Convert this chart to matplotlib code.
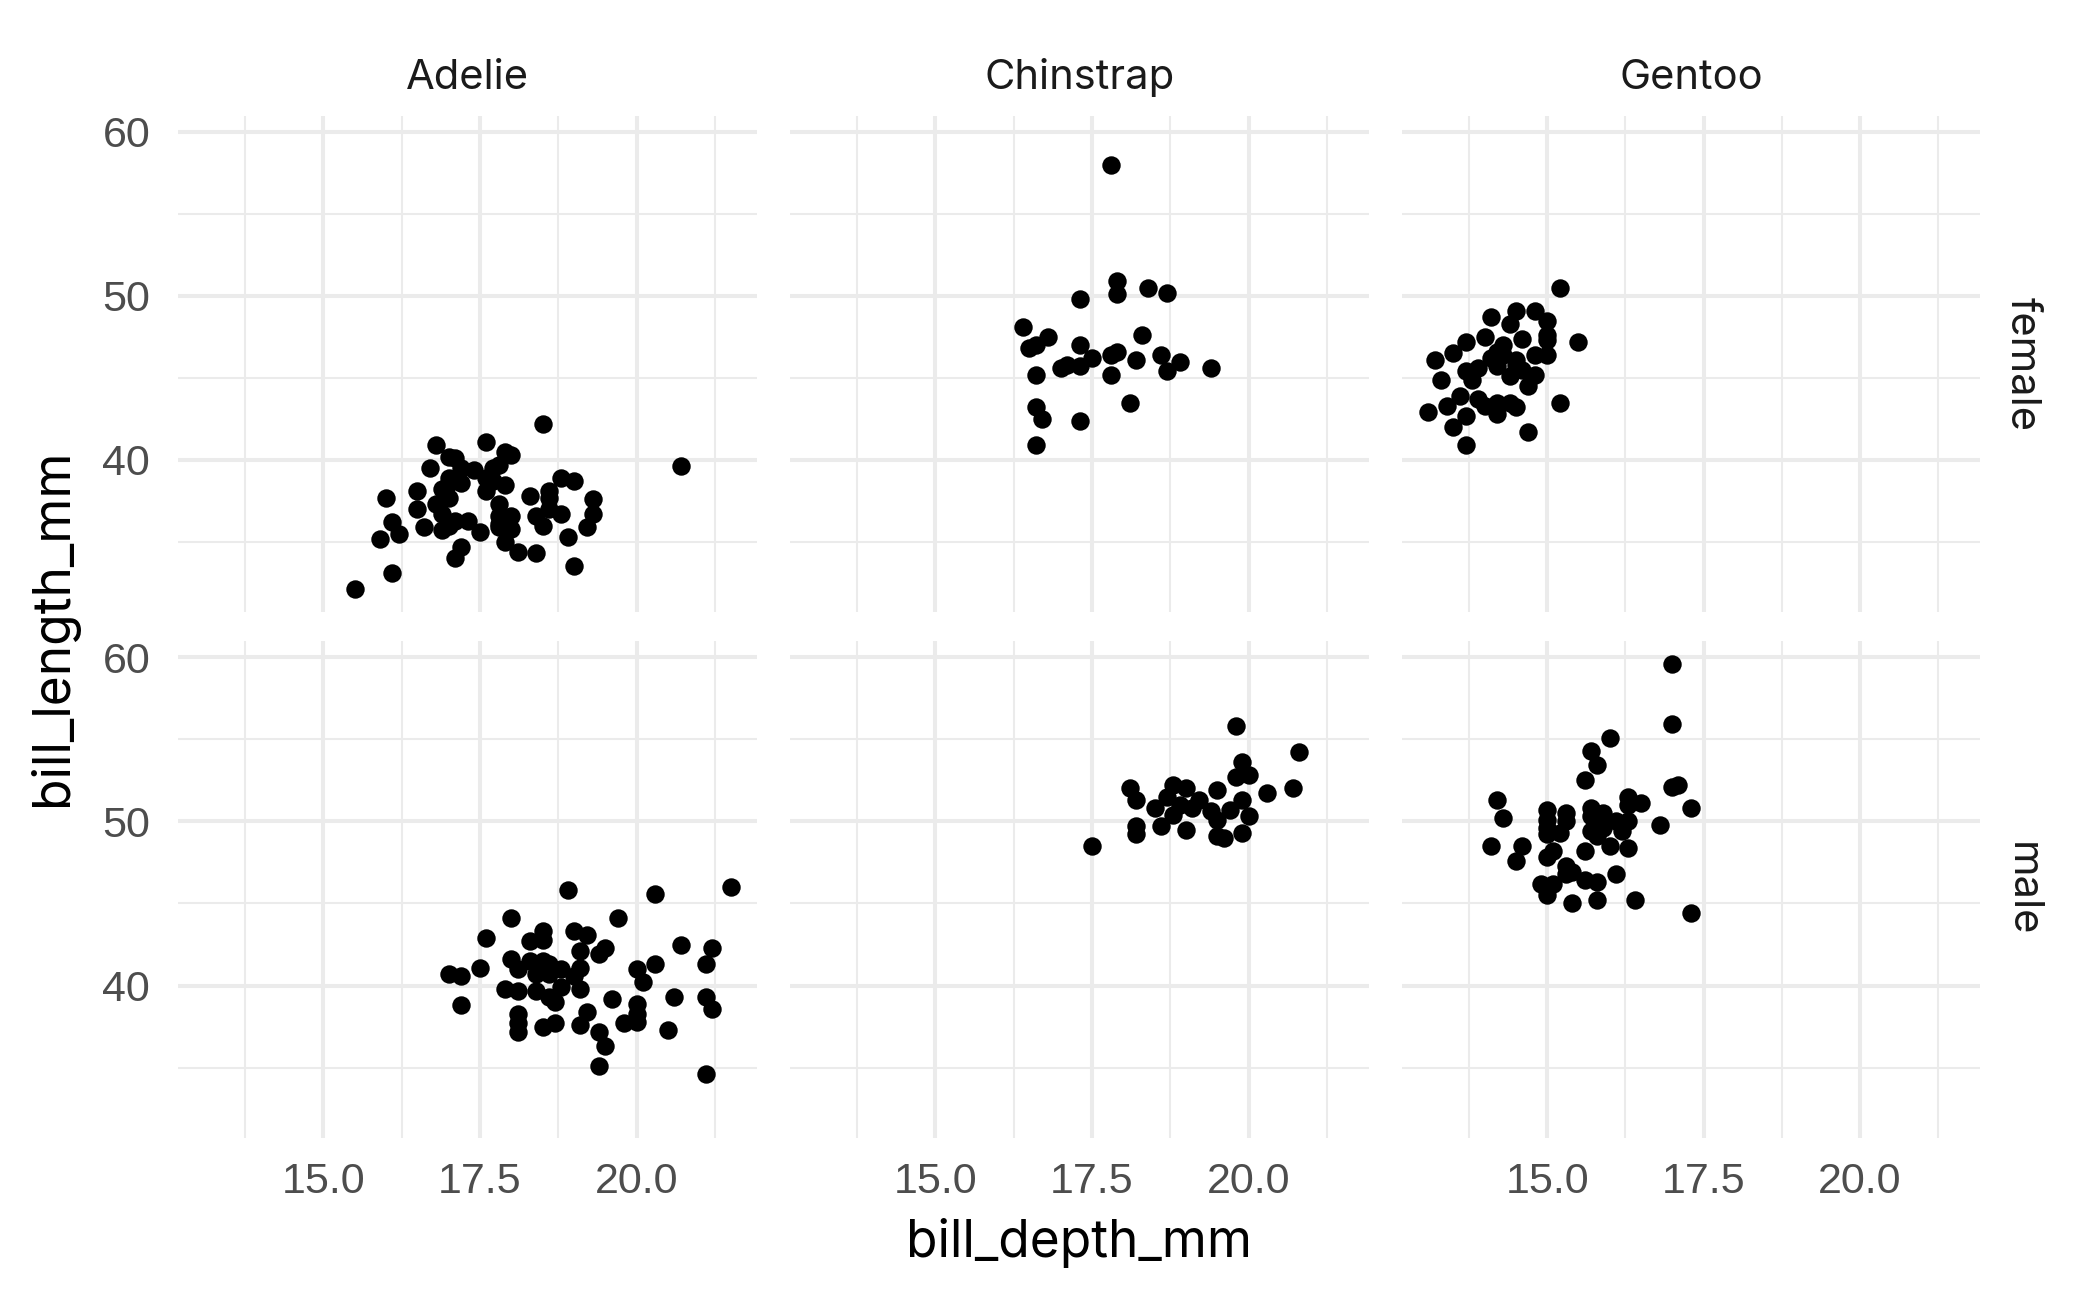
import matplotlib
matplotlib.use("Agg")
import matplotlib.pyplot as plt
from matplotlib.ticker import FixedLocator

# values, per species and sex: (bill_depth_mm, bill_length_mm)
species = ["Adelie", "Chinstrap", "Gentoo"]
sexes = ["female", "male"]

adelie_female_depth = [15.5, 16.1, 15.9, 16.2, 16.1, 16.0, 16.5, 16.5, 16.6, 16.7, 16.8, 17.0, 17.1, 17.0,
                       17.0, 16.8, 16.9, 16.9, 17.1, 17.2, 17.1, 17.2, 17.4, 17.3, 17.5, 17.6, 17.6, 17.7,
                       17.8, 17.9, 18.0, 17.9, 17.8, 17.8, 18.0, 17.8, 18.0, 17.9, 18.1, 18.4, 18.3, 18.5,
                       18.6, 18.6, 18.4, 18.5, 18.8, 18.6, 18.8, 19.0, 18.9, 19.0, 19.3, 19.3, 19.2, 20.7,
                       16.9, 17.0, 17.2, 17.6, 17.7, 17.8, 17.0]
adelie_female_length = [32.1, 33.1, 35.2, 35.5, 36.2, 37.7, 38.1, 37.0, 35.9, 39.5, 40.9, 40.2, 40.1, 38.9,
                        37.7, 37.3, 36.7, 35.7, 36.3, 34.7, 34.0, 38.6, 39.4, 36.3, 35.6, 41.1, 38.1, 39.5,
                        39.7, 40.5, 40.3, 38.5, 37.3, 36.6, 36.6, 36.1, 35.8, 35.0, 34.4, 34.3, 37.8, 42.2,
                        38.1, 37.7, 36.6, 36.0, 36.7, 37.0, 38.9, 38.7, 35.3, 33.5, 37.6, 36.7, 35.9, 39.6,
                        38.2, 38.6, 39.5, 38.9, 38.7, 35.9, 36.0]

adelie_male_depth = [21.5, 20.3, 18.9, 18.0, 19.7, 17.6, 18.5, 18.5, 18.3, 19.0, 19.2, 19.1, 19.5, 19.4,
                     20.7, 21.2, 21.1, 20.3, 20.0, 20.1, 18.0, 18.1, 18.3, 18.5, 18.6, 18.4, 18.6, 18.8,
                     19.1, 19.0, 17.5, 17.0, 17.2, 17.2, 17.9, 18.1, 18.4, 18.6, 18.7, 18.8, 19.1, 19.6,
                     20.0, 20.0, 20.0, 19.8, 20.6, 21.1, 21.2, 18.1, 18.1, 18.1, 18.5, 18.7, 19.2, 19.1,
                     19.4, 19.5, 20.5, 19.4, 21.1]
adelie_male_length = [46.0, 45.6, 45.8, 44.1, 44.1, 42.9, 43.3, 42.8, 42.7, 43.3, 43.1, 42.1, 42.3, 41.9,
                      42.5, 42.3, 41.3, 41.3, 41.0, 40.2, 41.6, 41.0, 41.5, 41.5, 41.3, 40.7, 40.7, 41.0,
                      41.1, 40.6, 41.1, 40.7, 40.6, 38.8, 39.8, 39.7, 39.7, 39.3, 39.0, 39.9, 39.8, 39.2,
                      38.9, 38.3, 37.8, 37.7, 39.3, 39.3, 38.6, 38.3, 37.7, 37.2, 37.5, 37.7, 38.4, 37.6,
                      37.2, 36.3, 37.3, 35.1, 34.6]

chinstrap_female_depth = [17.8, 17.9, 17.9, 18.4, 18.7, 17.3, 16.4, 16.8, 16.5, 16.6, 17.3, 18.3, 17.8, 17.9,
                          17.5, 18.2, 18.6, 18.9, 19.4, 18.7, 17.0, 17.1, 17.3, 16.6, 17.8, 18.1, 16.6, 16.7,
                          17.3, 16.6]
chinstrap_female_length = [58.0, 50.9, 50.1, 50.5, 50.2, 49.8, 48.1, 47.5, 46.8, 47.0, 47.0, 47.6, 46.4, 46.6,
                           46.2, 46.1, 46.4, 46.0, 45.6, 45.4, 45.6, 45.8, 45.7, 45.2, 45.2, 43.5, 43.2, 42.5,
                           42.4, 40.9]

chinstrap_male_depth = [19.8, 20.8, 19.9, 19.8, 20.0, 20.7, 20.3, 19.5, 18.1, 18.2, 18.8, 19.0, 18.7, 19.2,
                        19.1, 18.9, 18.5, 18.8, 19.4, 19.7, 19.9, 20.0, 19.5, 18.2, 18.2, 18.6, 19.0, 19.5,
                        19.6, 19.9, 17.5]
chinstrap_male_length = [55.8, 54.2, 53.6, 52.7, 52.8, 52.0, 51.7, 51.9, 52.0, 51.3, 52.2, 52.0, 51.5, 51.3,
                         50.8, 51.0, 50.8, 50.4, 50.6, 50.7, 51.3, 50.3, 50.1, 49.7, 49.2, 49.7, 49.5, 49.1,
                         49.0, 49.3, 48.5]

gentoo_female_depth = [15.2, 14.5, 14.8, 15.0, 14.1, 14.4, 14.0, 13.7, 13.5, 13.2, 14.6, 15.0, 15.0, 15.5,
                       15.0, 14.8, 14.2, 14.1, 14.2, 13.9, 13.7, 13.8, 13.3, 14.3, 14.5, 14.4, 14.6, 14.8,
                       14.7, 13.6, 13.4, 13.1, 13.9, 14.0, 14.2, 14.4, 14.5, 14.2, 13.7, 13.5, 13.7, 14.7,
                       15.2, 14.3, 14.5]
gentoo_female_length = [50.5, 49.1, 49.1, 48.5, 48.7, 48.3, 47.5, 47.2, 46.5, 46.1, 47.4, 47.6, 47.3, 47.2,
                        46.4, 46.4, 46.6, 46.2, 45.7, 45.6, 45.4, 44.9, 44.9, 46.4, 45.8, 45.1, 45.5, 45.2,
                        44.5, 43.9, 43.3, 42.9, 43.7, 43.3, 43.5, 43.5, 43.2, 42.8, 42.7, 42.0, 40.9, 41.7,
                        43.5, 47.0, 46.1]

gentoo_male_depth = [17.0, 17.0, 16.0, 15.7, 15.8, 15.6, 17.0, 17.1, 17.3, 16.3, 16.5, 16.3, 14.2, 14.3,
                     15.0, 15.0, 15.0, 15.0, 15.3, 15.3, 15.2, 15.7, 15.7, 15.9, 16.1, 16.3, 15.7, 15.9,
                     15.8, 16.2, 16.8, 16.0, 16.3, 15.6, 15.1, 15.0, 14.6, 14.5, 14.1, 15.3, 15.3, 15.4,
                     15.6, 15.8, 16.1, 14.9, 15.1, 15.0, 15.4, 15.8, 16.4, 17.3]
gentoo_male_length = [59.6, 55.9, 55.1, 54.3, 53.4, 52.5, 52.1, 52.2, 50.8, 51.5, 51.1, 51.0, 51.3, 50.2,
                      50.7, 50.1, 49.6, 49.2, 50.5, 50.0, 49.3, 50.8, 50.3, 50.5, 50.0, 50.0, 49.4, 49.6,
                      49.1, 49.4, 49.8, 48.5, 48.4, 48.2, 48.2, 47.8, 48.5, 47.6, 48.5, 47.3, 46.8, 46.9,
                      46.4, 46.3, 46.8, 46.2, 46.2, 45.5, 45.0, 45.2, 45.2, 44.4]

panels = {
    ("Adelie", "female"): (adelie_female_depth, adelie_female_length),
    ("Adelie", "male"): (adelie_male_depth, adelie_male_length),
    ("Chinstrap", "female"): (chinstrap_female_depth, chinstrap_female_length),
    ("Chinstrap", "male"): (chinstrap_male_depth, chinstrap_male_length),
    ("Gentoo", "female"): (gentoo_female_depth, gentoo_female_length),
    ("Gentoo", "male"): (gentoo_male_depth, gentoo_male_length),
}

x_ticks = [15.0, 17.5, 20.0]
x_tick_labels = ["15.0", "17.5", "20.0"]
x_minor = [13.75, 16.25, 18.75, 21.25]
y_ticks = [40, 50, 60]
y_tick_labels = ["40", "50", "60"]
y_minor = [35, 45, 55]
x_lim = (12.68, 21.92)
y_lim = (30.725, 60.975)

W, H = 2100, 1297
DPI = 200
TEXT_FONT = ["Inter", "DejaVu Sans"]
TICK_FONT = ["Liberation Sans", "DejaVu Sans"]

fig = plt.figure(figsize=(W / DPI, H / DPI), dpi=DPI)
fig.patch.set_facecolor("white")

col_px = [(178, 757), (790, 1369), (1402, 1980)]
row_px = [(116, 612), (641, 1138)]

for r, sex in enumerate(sexes):
    for c, sp in enumerate(species):
        x0, x1 = col_px[c]
        y0, y1 = row_px[r]
        ax = fig.add_axes([x0 / W, 1 - y1 / H, (x1 - x0) / W, (y1 - y0) / H])
        ax.set_facecolor("white")
        for s in ax.spines.values():
            s.set_visible(False)
        ax.set_xlim(*x_lim)
        ax.set_ylim(*y_lim)
        ax.xaxis.set_major_locator(FixedLocator(x_ticks))
        ax.yaxis.set_major_locator(FixedLocator(y_ticks))
        ax.xaxis.set_minor_locator(FixedLocator(x_minor))
        ax.yaxis.set_minor_locator(FixedLocator(y_minor))
        ax.grid(True, which="major", color="#EBEBEB", linewidth=1.45)
        ax.grid(True, which="minor", color="#EBEBEB", linewidth=0.75)
        ax.set_axisbelow(True)
        ax.tick_params(which="both", length=0)

        if r == 1:
            ax.set_xticklabels(x_tick_labels)
        else:
            ax.set_xticklabels([])
        if c == 0:
            ax.set_yticklabels(y_tick_labels)
        else:
            ax.set_yticklabels([])
        ax.tick_params(axis="x", pad=8.5, labelsize=15.5, labelcolor="#4D4D4D")
        ax.tick_params(axis="y", pad=10, labelsize=15.5, labelcolor="#4D4D4D")
        for lab in ax.get_xticklabels() + ax.get_yticklabels():
            lab.set_family(TICK_FONT)

        xs, ys = panels[(sp, sex)]
        ax.scatter(xs, ys, s=44, color="black", linewidths=0, zorder=3)

        if r == 0:
            ax.text(0.5, 1.0 + 38 / (y1 - y0), sp, transform=ax.transAxes, ha="center", va="center",
                    fontsize=15, color="#1A1A1A", family=TEXT_FONT)
        if c == 2:
            ax.text(1.0 + 42 / (x1 - x0), 0.5, sex, transform=ax.transAxes, ha="center", va="center",
                    rotation=-90, fontsize=15, color="#1A1A1A", family=TEXT_FONT)

fig.text(1079 / W, 1 - 1243 / H, "bill_depth_mm", ha="center", va="center", fontsize=18.5,
         color="black", family=TEXT_FONT)
fig.text(53 / W, 1 - 627 / H, "bill_length_mm", ha="center", va="center", rotation=90,
         fontsize=18.5, color="black", family=TEXT_FONT)

fig.savefig("out.png", dpi=DPI)
plt.close(fig)
print("Wrote: out.png")
